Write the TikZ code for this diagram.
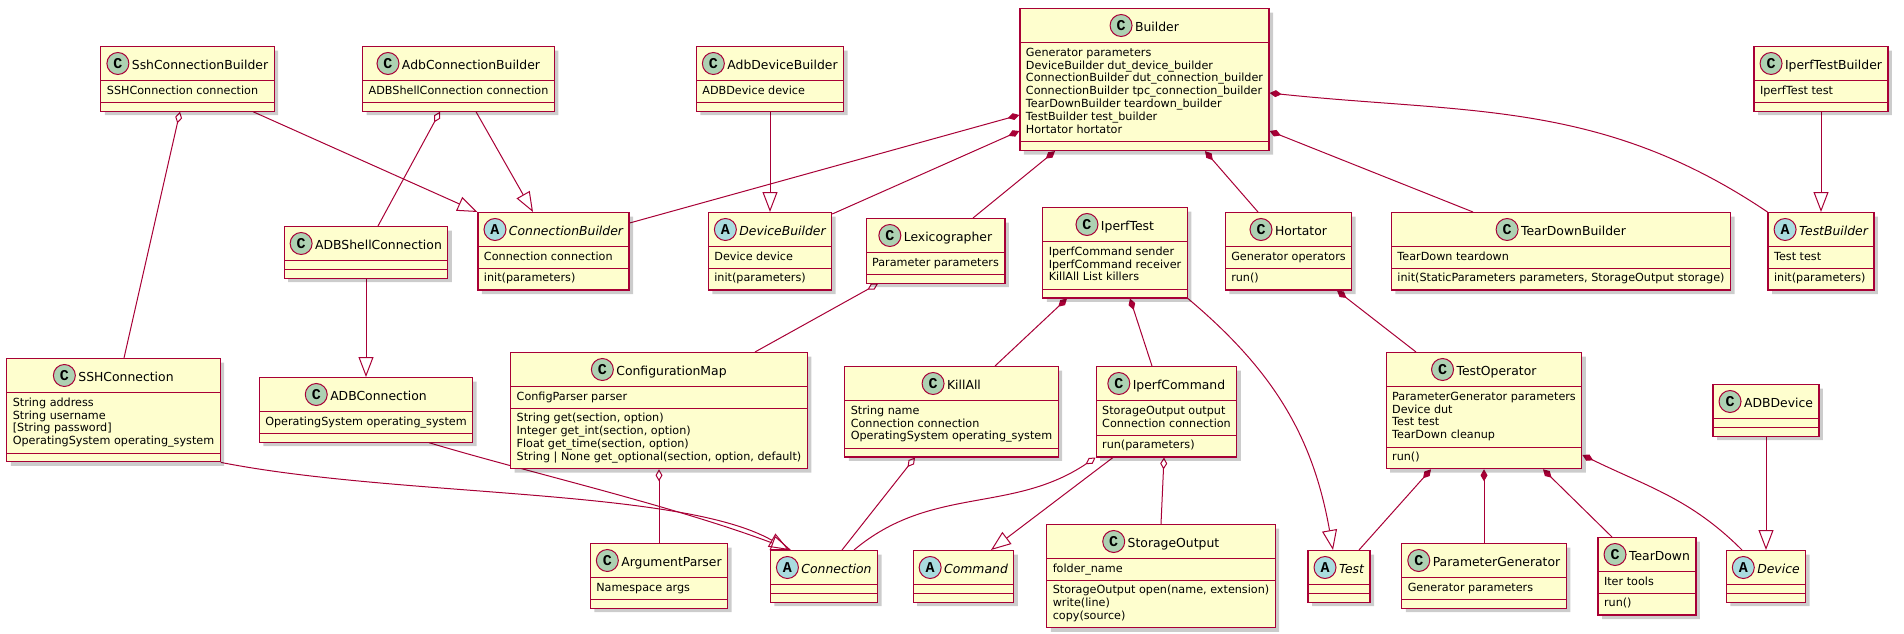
\documentclass[tikz,border=0pt]{standalone}
\usepackage{fontspec}
\setmainfont{DejaVu Sans}
\setmonofont{Liberation Mono}
\usepackage{tikz}
\usetikzlibrary{shapes.multipart,arrows.meta,shadows}
\definecolor{umlborder}{HTML}{A80036}
\definecolor{umlfill}{HTML}{FEFECE}
\definecolor{markgreen}{HTML}{ADD1B2}
\definecolor{markblue}{HTML}{A9DCDF}
\newcommand{\clsnamefont}{\fontsize{12.4}{14.5}\selectfont}
\newcommand{\clsmemberfont}{\fontsize{11.2}{12.9}\selectfont}
\newcommand{\clshead}[1]{{\clsnamefont\rule[-7.25pt]{0pt}{25.5pt}\hspace{25pt}#1}}
\newcommand{\abshead}[1]{{\clsnamefont\itshape\rule[-7.25pt]{0pt}{25.5pt}\hspace{25pt}#1}}
\newcommand{\members}[1]{\begin{tabular}{@{}l@{}}#1\end{tabular}}
\newcommand{\nomembers}{\rule{0.1pt}{0pt}}
\pgfdeclarelayer{edgelayer}
\pgfdeclarelayer{nodelayer}
\pgfsetlayers{edgelayer,nodelayer,main}
\tikzstyle{umlclass}=[rectangle split, rectangle split parts=3, rectangle split part align={center,left,left}, anchor=north, draw=umlborder, fill=umlfill, line width=1.2, inner xsep=6pt, inner ysep=3.75pt, font=\clsmemberfont, drop shadow={shadow xshift=4pt, shadow yshift=-4pt, fill=black, opacity=0.2}]
\tikzstyle{classmark}=[circle, draw=umlborder, fill=markgreen, line width=1, minimum size=22pt, inner sep=0pt, font={\fontsize{15}{15}\selectfont\ttfamily\bfseries}]
\tikzstyle{abstractmark}=[classmark, fill=markblue]
\tikzstyle{edge}=[draw=umlborder, line width=1]
\tikzstyle{inherit}=[edge, -{Triangle[open, length=20pt, width=15pt]}]
\tikzstyle{compose}=[edge, {Diamond[length=12pt, width=7pt]}-]
\tikzstyle{aggregate}=[edge, {Diamond[open, length=12pt, width=7pt]}-]
\begin{document}
\begin{tikzpicture}[x=1pt, y=-1pt]
	\useasboundingbox (0,0) rectangle (1904,634);
	\begin{pgfonlayer}{nodelayer}
		% builders
		\node [style=umlclass] (SshConnectionBuilder) at (187.5, 46) {\clshead{SshConnectionBuilder}\nodepart{two}\members{SSHConnection connection}\nodepart{three}\nomembers};
		\node [style=umlclass] (AdbConnectionBuilder) at (458.5, 46) {\clshead{AdbConnectionBuilder}\nodepart{two}\members{ADBShellConnection connection}\nodepart{three}\nomembers};
		\node [style=umlclass] (AdbDeviceBuilder) at (770, 46) {\clshead{AdbDeviceBuilder}\nodepart{two}\members{ADBDevice device}\nodepart{three}\nomembers};
		\node [style=umlclass] (Builder) at (1144.5, 8) {\clshead{Builder}\nodepart{two}\members{Generator parameters\\DeviceBuilder dut\_device\_builder\\ConnectionBuilder dut\_connection\_builder\\ConnectionBuilder tpc\_connection\_builder\\TearDownBuilder teardown\_builder\\TestBuilder test\_builder\\Hortator hortator}\nodepart{three}\nomembers};
		\node [style=umlclass] (IperfTestBuilder) at (1821, 46) {\clshead{IperfTestBuilder}\nodepart{two}\members{IperfTest test}\nodepart{three}\nomembers};

		% second row
		\node [style=umlclass] (ADBShellConnection) at (366, 226) {\clshead{ADBShellConnection}\nodepart{two}\nomembers\nodepart{three}\nomembers};
		\node [style=umlclass] (ConnectionBuilder) at (553.5, 212) {\abshead{ConnectionBuilder}\nodepart{two}\members{Connection connection}\nodepart{three}\members{init(parameters)}};
		\node [style=umlclass] (DeviceBuilder) at (770, 212) {\abshead{DeviceBuilder}\nodepart{two}\members{Device device}\nodepart{three}\members{init(parameters)}};
		\node [style=umlclass] (Lexicographer) at (935.5, 218) {\clshead{Lexicographer}\nodepart{two}\members{Parameter parameters}\nodepart{three}\nomembers};
		\node [style=umlclass] (IperfTest) at (1115, 207) {\clshead{IperfTest}\nodepart{two}\members{IperfCommand sender\\IperfCommand receiver\\KillAll List killers}\nodepart{three}\nomembers};
		\node [style=umlclass] (Hortator) at (1288.5, 212) {\clshead{Hortator}\nodepart{two}\members{Generator operators}\nodepart{three}\members{run()}};
		\node [style=umlclass] (TearDownBuilder) at (1561, 212) {\clshead{TearDownBuilder}\nodepart{two}\members{TearDown teardown}\nodepart{three}\members{init(StaticParameters parameters, StorageOutput storage)}};
		\node [style=umlclass] (TestBuilder) at (1821, 212) {\abshead{TestBuilder}\nodepart{two}\members{Test test}\nodepart{three}\members{init(parameters)}};

		% third row
		\node [style=umlclass] (SSHConnection) at (113.5, 358) {\clshead{SSHConnection}\nodepart{two}\members{String address\\String username\\{[String password]}\\OperatingSystem operating\_system}\nodepart{three}\nomembers};
		\node [style=umlclass] (ADBConnection) at (366, 377) {\clshead{ADBConnection}\nodepart{two}\members{OperatingSystem operating\_system}\nodepart{three}\nomembers};
		\node [style=umlclass] (ConfigurationMap) at (659, 352) {\clshead{ConfigurationMap}\nodepart{two}\members{ConfigParser parser}\nodepart{three}\members{String get(section, option)\\Integer get\_int(section, option)\\Float get\_time(section, option)\\String | None get\_optional(section, option, default)}};
		\node [style=umlclass] (KillAll) at (951.5, 366) {\clshead{KillAll}\nodepart{two}\members{String name\\Connection connection\\OperatingSystem operating\_system}\nodepart{three}\nomembers};
		\node [style=umlclass] (IperfCommand) at (1166.5, 366) {\clshead{IperfCommand}\nodepart{two}\members{StorageOutput output\\Connection connection}\nodepart{three}\members{run(parameters)}};
		\node [style=umlclass] (TestOperator) at (1484, 352) {\clshead{TestOperator}\nodepart{two}\members{ParameterGenerator parameters\\Device dut\\Test test\\TearDown cleanup}\nodepart{three}\members{run()}};
		\node [style=umlclass] (ADBDevice) at (1766, 384) {\clshead{ADBDevice}\nodepart{two}\nomembers\nodepart{three}\nomembers};

		% bottom row
		\node [style=umlclass] (ArgumentParser) at (659, 543) {\clshead{ArgumentParser}\nodepart{two}\members{Namespace args}\nodepart{three}\nomembers};
		\node [style=umlclass] (Connection) at (824, 550) {\abshead{Connection}\nodepart{two}\nomembers\nodepart{three}\nomembers};
		\node [style=umlclass] (Command) at (963.5, 550) {\abshead{Command}\nodepart{two}\nomembers\nodepart{three}\nomembers};
		\node [style=umlclass] (StorageOutput) at (1161, 524) {\clshead{StorageOutput}\nodepart{two}\members{folder\_name}\nodepart{three}\members{StorageOutput open(name, extension)\\write(line)\\copy(source)}};
		\node [style=umlclass] (Test) at (1339, 550) {\abshead{Test}\nodepart{two}\nomembers\nodepart{three}\nomembers};
		\node [style=umlclass] (ParameterGenerator) at (1484, 543) {\clshead{ParameterGenerator}\nodepart{two}\members{Generator parameters}\nodepart{three}\nomembers};
		\node [style=umlclass] (TearDown) at (1647, 537) {\clshead{TearDown}\nodepart{two}\members{Iter tools}\nodepart{three}\members{run()}};
		\node [style=umlclass] (Device) at (1766, 550) {\abshead{Device}\nodepart{two}\nomembers\nodepart{three}\nomembers};

		% spot marks
		\node [style=classmark] (mSshConnectionBuilder) at ([shift={(11pt,5.7pt)}]SshConnectionBuilder.text) {C};
		\node [style=classmark] (mAdbConnectionBuilder) at ([shift={(11pt,5.7pt)}]AdbConnectionBuilder.text) {C};
		\node [style=classmark] (mAdbDeviceBuilder) at ([shift={(11pt,5.7pt)}]AdbDeviceBuilder.text) {C};
		\node [style=classmark] (mBuilder) at ([shift={(11pt,5.7pt)}]Builder.text) {C};
		\node [style=classmark] (mIperfTestBuilder) at ([shift={(11pt,5.7pt)}]IperfTestBuilder.text) {C};
		\node [style=classmark] (mADBShellConnection) at ([shift={(11pt,5.7pt)}]ADBShellConnection.text) {C};
		\node [style=abstractmark] (mConnectionBuilder) at ([shift={(11pt,5.7pt)}]ConnectionBuilder.text) {A};
		\node [style=abstractmark] (mDeviceBuilder) at ([shift={(11pt,5.7pt)}]DeviceBuilder.text) {A};
		\node [style=classmark] (mLexicographer) at ([shift={(11pt,5.7pt)}]Lexicographer.text) {C};
		\node [style=classmark] (mIperfTest) at ([shift={(11pt,5.7pt)}]IperfTest.text) {C};
		\node [style=classmark] (mHortator) at ([shift={(11pt,5.7pt)}]Hortator.text) {C};
		\node [style=classmark] (mTearDownBuilder) at ([shift={(11pt,5.7pt)}]TearDownBuilder.text) {C};
		\node [style=abstractmark] (mTestBuilder) at ([shift={(11pt,5.7pt)}]TestBuilder.text) {A};
		\node [style=classmark] (mSSHConnection) at ([shift={(11pt,5.7pt)}]SSHConnection.text) {C};
		\node [style=classmark] (mADBConnection) at ([shift={(11pt,5.7pt)}]ADBConnection.text) {C};
		\node [style=classmark] (mConfigurationMap) at ([shift={(11pt,5.7pt)}]ConfigurationMap.text) {C};
		\node [style=classmark] (mKillAll) at ([shift={(11pt,5.7pt)}]KillAll.text) {C};
		\node [style=classmark] (mIperfCommand) at ([shift={(11pt,5.7pt)}]IperfCommand.text) {C};
		\node [style=classmark] (mTestOperator) at ([shift={(11pt,5.7pt)}]TestOperator.text) {C};
		\node [style=classmark] (mADBDevice) at ([shift={(11pt,5.7pt)}]ADBDevice.text) {C};
		\node [style=classmark] (mArgumentParser) at ([shift={(11pt,5.7pt)}]ArgumentParser.text) {C};
		\node [style=abstractmark] (mConnection) at ([shift={(11pt,5.7pt)}]Connection.text) {A};
		\node [style=abstractmark] (mCommand) at ([shift={(11pt,5.7pt)}]Command.text) {A};
		\node [style=classmark] (mStorageOutput) at ([shift={(11pt,5.7pt)}]StorageOutput.text) {C};
		\node [style=abstractmark] (mTest) at ([shift={(11pt,5.7pt)}]Test.text) {A};
		\node [style=classmark] (mParameterGenerator) at ([shift={(11pt,5.7pt)}]ParameterGenerator.text) {C};
		\node [style=classmark] (mTearDown) at ([shift={(11pt,5.7pt)}]TearDown.text) {C};
		\node [style=abstractmark] (mDevice) at ([shift={(11pt,5.7pt)}]Device.text) {A};
	\end{pgfonlayer}
	\begin{pgfonlayer}{edgelayer}
		\draw [style=aggregate] ([xshift=-7.5pt]SshConnectionBuilder.south) to ([xshift=10.5pt]SSHConnection.north);
		\draw [style=inherit] ([xshift=65.5pt]SshConnectionBuilder.south) to (ConnectionBuilder.north west);
		\draw [style=aggregate] ([xshift=-18.5pt]AdbConnectionBuilder.south) to ([xshift=12pt]ADBShellConnection.north);
		\draw [style=inherit] ([xshift=17.5pt]AdbConnectionBuilder.south) to ([xshift=-20.5pt]ConnectionBuilder.north);
		\draw [style=inherit] (ADBShellConnection.south) to (ADBConnection.north);
		\draw [style=inherit] (AdbDeviceBuilder.south) to (DeviceBuilder.north);
		\draw [style=compose] ([yshift=-107pt]Builder.north west) to ([yshift=-11pt]ConnectionBuilder.north east);
		\draw [style=compose] ([yshift=-123pt]Builder.north west) to ([yshift=-2pt]DeviceBuilder.north east);
		\draw [style=compose] ([xshift=-89.5pt]Builder.south) to ([xshift=37.5pt]Lexicographer.north);
		\draw [style=compose] ([xshift=60.5pt]Builder.south) to ([xshift=-30.5pt]Hortator.north);
		\draw [style=compose] ([yshift=-123pt]Builder.north east) to ([xshift=-88pt]TearDownBuilder.north);
		\draw [style=compose] ([yshift=-85pt]Builder.north east) to [out=-6, in=146] (TestBuilder.north west);
		\draw [style=inherit] (IperfTestBuilder.south) to (TestBuilder.north);
		\draw [style=aggregate] ([xshift=-57.5pt]Lexicographer.south) to ([xshift=96pt]ConfigurationMap.north);
		\draw [style=compose] ([xshift=-48pt]IperfTest.south) to ([xshift=43.5pt]KillAll.north);
		\draw [style=compose] ([xshift=15pt]IperfTest.south) to ([xshift=-14.5pt]IperfCommand.north);
		\draw [style=inherit] (IperfTest.south east) to [out=-40, in=100] ([xshift=-6pt]Test.north);
		\draw [style=compose] ([xshift=48.5pt]Hortator.south) to ([xshift=-68pt]TestOperator.north);
		\draw [style=aggregate] (ConfigurationMap.south) to (ArgumentParser.north);
		\draw [style=inherit] (SSHConnection.south east) .. controls +(178,35) and +(-109,-62) .. ([xshift=-35pt]Connection.north);
		\draw [style=inherit] ([xshift=63pt]ADBConnection.south) .. controls +(100,30) and +(-120,-45) .. ([xshift=-33pt]Connection.north);
		\draw [style=aggregate] ([xshift=-36.5pt]KillAll.south) to ([xshift=18pt]Connection.north);
		\draw [style=aggregate] (IperfCommand.south west) to [out=-146, in=40] ([xshift=30pt]Connection.north);
		\draw [style=inherit] ([xshift=-53.5pt]IperfCommand.south) to ([xshift=27.5pt]Command.north);
		\draw [style=aggregate] ([xshift=-2.5pt]IperfCommand.south) to (StorageOutput.north);
		\draw [style=compose] ([xshift=-53pt]TestOperator.south) to ([xshift=20pt]Test.north);
		\draw [style=compose] (TestOperator.south) to (ParameterGenerator.north);
		\draw [style=compose] ([xshift=59pt]TestOperator.south) to ([xshift=-35pt]TearDown.north);
		\draw [style=compose] ([yshift=-103pt]TestOperator.north east) to [out=-26, in=135] ([xshift=-24pt]Device.north);
		\draw [style=inherit] (ADBDevice.south) to (Device.north);
	\end{pgfonlayer}
\end{tikzpicture}
\end{document}
